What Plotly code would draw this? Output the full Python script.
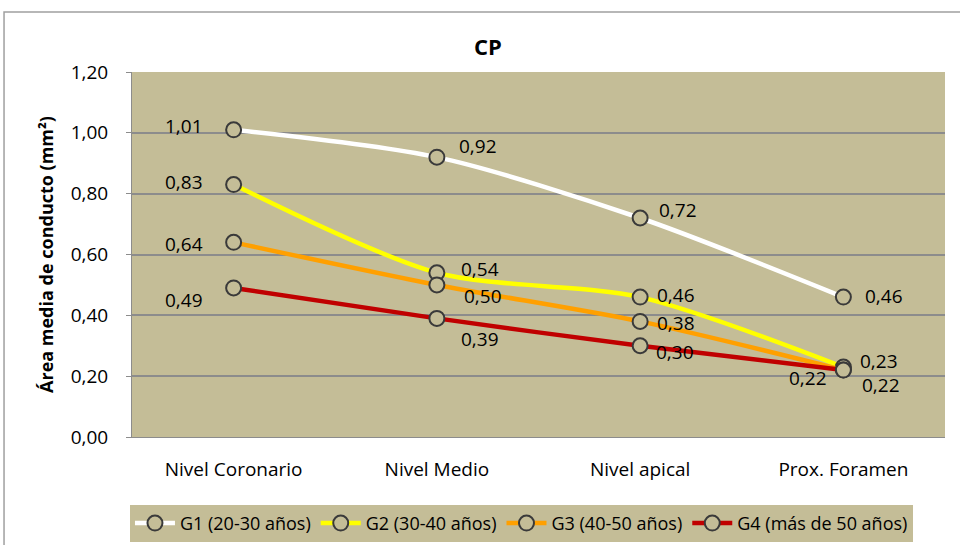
import plotly.graph_objects as go

# Conduct area data (mm²) per canal level and age group
categories = ["Nivel Coronario", "Nivel Medio", "Nivel apical", "Prox. Foramen"]
g1 = [1.01, 0.92, 0.72, 0.46]
g2 = [0.83, 0.54, 0.46, 0.23]
g3 = [0.64, 0.50, 0.38, 0.22]
g4 = [0.49, 0.39, 0.30, 0.22]
series_names = ["G1 (20-30 años)", "G2 (30-40 años)", "G3 (40-50 años)", "G4 (más de 50 años)"]
y_ticks = [0.0, 0.2, 0.4, 0.6, 0.8, 1.0, 1.2]

series = [g1, g2, g3, g4]
colors = ["#FFFFFF", "#FFFF00", "#FFA000", "#C00000"]
bg = "#C4BD97"
font_family = "'Open Sans', 'Noto Sans', sans-serif"

# label offsets (px) for each series/point
offsets = [
    [(-50, 4), (41, 11), (38, 8), (41, 1)],
    [(-50, 3), (43, 4), (36, 2), (36, 6)],
    [(-50, -2), (46, -11), (36, -2), (-35, -8)],
    [(-50, -12), (43, -21), (35, -6), (38, -15)],
]

fig = go.Figure()
for name, vals, col in zip(series_names, series, colors):
    fig.add_trace(go.Scatter(
        x=categories, y=vals, name=name, mode="lines+markers",
        line=dict(color=col, width=4.5, shape="spline", smoothing=0.8),
        marker=dict(symbol="circle", size=15, color=bg,
                    line=dict(color="#3A3A3A", width=2)),
    ))

annotations = []
for vals, offs in zip(series, offsets):
    for cat, v, (dx, dy) in zip(categories, vals, offs):
        annotations.append(dict(
            x=cat, y=v, xref="x", yref="y",
            text=f"{v:.2f}".replace(".", ","), showarrow=False,
            xshift=dx, yshift=dy,
            font=dict(family=font_family, size=19, color="#000000"),
        ))

fig.update_layout(
    width=960, height=545,
    margin=dict(l=132, r=15, t=72, b=108, autoexpand=False),
    paper_bgcolor="white", plot_bgcolor=bg,
    separators=",.",
    font=dict(family=font_family, size=19, color="#000000"),
    title=dict(text="<b>CP</b>", x=488 / 960, xanchor="center",
               y=1 - 47 / 545, yanchor="middle",
               font=dict(size=22, family=font_family)),
    showlegend=True,
    legend=dict(orientation="h", x=-0.0025, xanchor="left", y=-0.186, yanchor="top",
                bgcolor=bg, font=dict(size=18, family=font_family),
                itemwidth=40, tracegroupgap=0),
    annotations=annotations,
    shapes=[dict(type="rect", xref="paper", yref="paper",
                 x0=-0.1574, x1=1.2, y0=-0.5, y1=1.1644,
                 line=dict(color="#A0A0A0", width=1.5), layer="below")],
)
fig.update_xaxes(
    range=[-0.5, 3.5],
    showgrid=False, showline=True, linecolor="#8C8C8C", linewidth=1,
    ticks="", tickfont=dict(size=19), ticklabelstandoff=15,
)
fig.update_yaxes(
    range=[0, 1.2], tickvals=y_ticks, tickformat=".2f",
    showgrid=True, gridcolor="#8C8C8C", gridwidth=1.5,
    showline=True, linecolor="#8C8C8C", linewidth=1,
    ticks="outside", ticklen=5, tickcolor="#8C8C8C",
    tickfont=dict(size=19), ticklabelstandoff=14, zeroline=False,
    title=dict(text="<b>Área media de conducto (mm²)</b>", font=dict(size=18), standoff=12),
)

fig.write_html("out.html")
